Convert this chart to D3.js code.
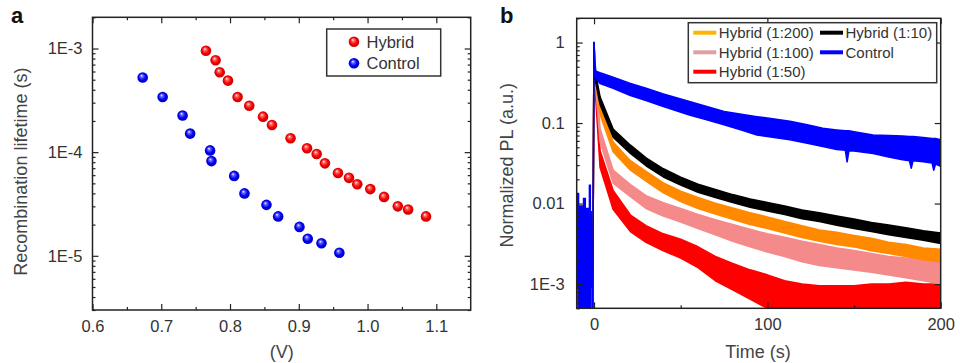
<!DOCTYPE html>
<html>
<head>
<meta charset="utf-8">
<script src="https://cdn.jsdelivr.net/npm/d3@7"></script>
<style>
  body { margin: 0; background: #fff; }
  text { font-family: "Liberation Sans", Arial, sans-serif; }
</style>
</head>
<body>
<div id="container"></div>
<script>
/* DATA: panel a (recombination lifetime vs voltage) */
const voltHybrid = [0.765, 0.779, 0.785, 0.797, 0.811, 0.828, 0.848, 0.861, 0.888, 0.912, 0.926, 0.938, 0.957, 0.973, 0.985, 1.004, 1.024, 1.044, 1.059, 1.085]
const tauHybrid = [9.5e-4, 7.7e-4, 5.9e-4, 4.9e-4, 3.4e-4, 2.8e-4, 2.2e-4, 1.83e-4, 1.36e-4, 1.09e-4, 9.6e-5, 7.8e-5, 6.3e-5, 5.65e-5, 4.9e-5, 4.4e-5, 3.7e-5, 3.0e-5, 2.8e-5, 2.4e-5]
const voltControl = [0.673, 0.702, 0.731, 0.742, 0.771, 0.773, 0.806, 0.821, 0.853, 0.870, 0.901, 0.913, 0.933, 0.959]
const tauControl = [5.25e-4, 3.4e-4, 2.26e-4, 1.51e-4, 1.04e-4, 8.2e-5, 5.9e-5, 4.0e-5, 3.1e-5, 2.4e-5, 1.9e-5, 1.46e-5, 1.32e-5, 1.07e-5]
const legendA = ["Hybrid", "Control"]
const xTicksA = [0.6, 0.7, 0.8, 0.9, 1.0, 1.1]
const xTickLabelsA = ["0.6", "0.7", "0.8", "0.9", "1.0", "1.1"]
const yTicksA = [1e-5, 1e-4, 1e-3]
const yTickLabelsA = ["1E-5", "1E-4", "1E-3"]

/* DATA: panel b (normalized PL decay), noise band read as lower/upper edges */
const timeB = [-0.8, 0, 0.4, 1, 3.5, 11, 21, 30, 40, 50, 60, 70, 80, 90, 100, 110, 120, 130, 140, 150, 160, 170, 180, 190, 200]
const hi110 = [4e-4, 1.0, 0.55, 0.40, 0.21, 0.084, 0.053, 0.037, 0.027, 0.0213, 0.0174, 0.0149, 0.0129, 0.0114, 0.0103, 0.0093, 0.0083, 0.0077, 0.0070, 0.0064, 0.0058, 0.0054, 0.0050, 0.0046, 0.0043]
const lo110 = [4e-4, 0.95, 0.45, 0.32, 0.17, 0.067, 0.042, 0.0295, 0.0214, 0.0170, 0.0138, 0.0119, 0.0103, 0.0090, 0.0081, 0.0073, 0.0065, 0.0060, 0.0054, 0.0049, 0.0045, 0.0041, 0.0038, 0.0035, 0.0032]
const hi1200 = [4e-4, 1.0, 0.52, 0.38, 0.166, 0.058, 0.034, 0.025, 0.018, 0.0142, 0.0119, 0.0101, 0.0088, 0.0077, 0.0068, 0.0060, 0.0053, 0.0047, 0.0044, 0.0040, 0.0037, 0.0033, 0.0031, 0.0028, 0.0027]
const lo1200 = [4e-4, 0.95, 0.42, 0.30, 0.128, 0.044, 0.026, 0.019, 0.0136, 0.0106, 0.0087, 0.0074, 0.0064, 0.0055, 0.0049, 0.0043, 0.0038, 0.0034, 0.0031, 0.0029, 0.0026, 0.0024, 0.0022, 0.0020, 0.0019]
const hi1100 = [4e-4, 1.0, 0.5, 0.36, 0.085, 0.026, 0.0172, 0.0125, 0.0102, 0.0087, 0.0073, 0.0063, 0.0055, 0.0048, 0.0042, 0.0038, 0.0034, 0.0031, 0.0028, 0.0026, 0.0024, 0.0022, 0.0021, 0.0020, 0.0019]
const lo1100 = [4e-4, 0.95, 0.4, 0.28, 0.058, 0.018, 0.0122, 0.0087, 0.0070, 0.0059, 0.0049, 0.0041, 0.0034, 0.0029, 0.0025, 0.0022, 0.0019, 0.0017, 0.0016, 0.0015, 0.0014, 0.0013, 0.0012, 0.0011, 0.0010]
const hi150 = [4e-4, 1.0, 0.45, 0.30, 0.045, 0.0145, 0.0072, 0.0053, 0.0042, 0.0036, 0.0029, 0.0022, 0.0018, 0.0015, 0.0013, 0.0011, 0.0010, 0.00095, 0.00095, 0.00095, 0.001, 0.001, 0.00105, 0.001, 0.001]
const lo150 = [4e-4, 0.95, 0.35, 0.20, 0.028, 0.0085, 0.0045, 0.0033, 0.0026, 0.0021, 0.0016, 0.0011, 0.00085, 0.00065, 0.0005, 0.0004, 0.0003, 0.0003, 0.0003, 0.0003, 0.0003, 0.0003, 0.0003, 0.0003, 0.0003]
// control is read on a finer grid (its dips are wide enough to see)
const timeControl = [-0.8, 0, 0.4, 1, 3.5, 11, 21, 30, 40, 55, 65, 75, 85, 94, 104, 113, 123, 132, 140, 145, 146, 147, 150, 161, 170, 178, 182, 183, 184, 190, 195, 196, 197, 200]
const hiControl = [4e-4, 1.0, 0.6, 0.44, 0.42, 0.37, 0.31, 0.27, 0.23, 0.185, 0.16, 0.139, 0.128, 0.120, 0.112, 0.105, 0.095, 0.086, 0.082, 0.080, 0.080, 0.080, 0.078, 0.071, 0.070, 0.069, 0.068, 0.068, 0.068, 0.066, 0.064, 0.064, 0.064, 0.062]
const loControl = [4e-4, 0.95, 0.5, 0.36, 0.31, 0.27, 0.22, 0.19, 0.16, 0.126, 0.11, 0.095, 0.082, 0.071, 0.066, 0.062, 0.056, 0.051, 0.047, 0.046, 0.033, 0.045, 0.045, 0.042, 0.038, 0.035, 0.034, 0.0275, 0.034, 0.033, 0.032, 0.026, 0.031, 0.029]
// before the pulse
const timePreControl = [-10.2, -8.5, -6.5, -4.6, -3.1, -1.7, -0.9]
const hiPreControl = [0.0136, 0.0095, 0.0118, 0.0089, 0.0173, 0.0081, 0.0081]
const timePreRed = [-10.2, -9.2, -3.1, -1.6, -0.9]
const hiPreRed = [0.0009, 0.0003, 0.0003, 0.0009, 0.0009]
const seriesNamesB = ["Hybrid (1:200)", "Hybrid (1:100)", "Hybrid (1:50)", "Hybrid (1:10)", "Control"]
const xTicksB = [0, 100, 200]
const yTicksB = [1e-3, 0.01, 0.1, 1]
const yTickLabelsB = ["1E-3", "0.01", "0.1", "1"]

/* SVG */
const width = 960, height = 363
const svg = d3.select("#container").append("svg")
  .attr("width", width)
  .attr("height", height)

const defs = svg.append("defs")
function sphere(id, light, base, dark) {
  const g = defs.append("radialGradient").attr("id", id)
    .attr("cx", "50%").attr("cy", "50%").attr("r", "55%")
    .attr("fx", "38%").attr("fy", "32%")
  g.append("stop").attr("offset", "0%").attr("stop-color", "#fff")
  g.append("stop").attr("offset", "22%").attr("stop-color", light)
  g.append("stop").attr("offset", "60%").attr("stop-color", base)
  g.append("stop").attr("offset", "100%").attr("stop-color", dark)
}
sphere("ballRed", "#ff6a6a", "#f40000", "#c00000")
sphere("ballBlue", "#6a6aff", "#0000f0", "#0000b8")

const textColor = "#333"

// draws frame + inward ticks on a panel
function frame(x, y, box, o) {
  const g = svg.append("g")
  const axisOpts = (ax, size) => ax.tickSizeInner(-size).tickSizeOuter(0)

  // minor ticks
  if (o.xMinor) {
    g.append("g").attr("transform", `translate(0,${box.bottom})`)
      .call(axisOpts(d3.axisBottom(x), 3).tickValues(o.xMinor).tickFormat(""))
    if (o.allSides) g.append("g").attr("transform", `translate(0,${box.top})`)
      .call(axisOpts(d3.axisTop(x), 3).tickValues(o.xMinor).tickFormat(""))
  }
  g.append("g").attr("transform", `translate(${box.left},0)`)
    .call(axisOpts(d3.axisLeft(y), 3).tickValues(o.yMinor).tickFormat(""))
  if (o.allSides) g.append("g").attr("transform", `translate(${box.right},0)`)
    .call(axisOpts(d3.axisRight(y), 3).tickValues(o.yMinor).tickFormat(""))

  // major ticks
  g.append("g").attr("transform", `translate(0,${box.bottom})`)
    .call(axisOpts(d3.axisBottom(x), 6).tickValues(o.xTicks).tickPadding(10)
      .tickFormat((d, i) => o.xLabels[i]))
  g.append("g").attr("transform", `translate(${box.left},0)`)
    .call(axisOpts(d3.axisLeft(y), 6).tickValues(o.yTicks).tickPadding(o.yPad)
      .tickFormat((d, i) => o.yLabels[i]))
  g.append("g").attr("transform", `translate(0,${box.top})`)
    .call(axisOpts(d3.axisTop(x), 6).tickValues(o.xTicks).tickFormat(""))
  g.append("g").attr("transform", `translate(${box.right},0)`)
    .call(axisOpts(d3.axisRight(y), 6).tickValues(o.yTicks).tickFormat(""))

  g.selectAll(".domain").remove()
  g.selectAll(".tick line").attr("stroke", "#222").attr("stroke-width", 1.2)
  g.selectAll(".tick text").attr("fill", textColor).attr("font-size", 16.5)
    .attr("font-family", "'Liberation Sans', Arial, sans-serif")

  g.append("rect")
    .attr("x", box.left).attr("y", box.top)
    .attr("width", box.right - box.left).attr("height", box.bottom - box.top)
    .attr("fill", "none").attr("stroke", "#222").attr("stroke-width", 1.5)
  return g
}

/* ---------- PANEL A ---------- */
const boxA = { left: 92.5, right: 470.7, top: 17.3, bottom: 310 }
const xA = d3.scaleLinear().domain([0.6, 1.15]).range([boxA.left, boxA.right])
const yA = d3.scaleLog().domain([3e-6, 2e-3]).range([boxA.bottom, boxA.top])

frame(xA, yA, boxA, {
  xTicks: xTicksA, xLabels: xTickLabelsA,
  xMinor: [0.65, 0.75, 0.85, 0.95, 1.05],
  yTicks: yTicksA, yLabels: yTickLabelsA, yPad: 10,
  yMinor: yA.ticks().filter(d => !yTicksA.some(t => Math.abs(t - d) / t < 1e-6)),
  allSides: true
})

const ptsHybrid = voltHybrid.map((v, i) => ({ v, tau: tauHybrid[i] }))
const ptsControl = voltControl.map((v, i) => ({ v, tau: tauControl[i] }))

svg.append("g").selectAll("circle.control")
  .data(ptsControl)
  .join("circle")
  .attr("class", "control")
  .attr("cx", d => xA(d.v))
  .attr("cy", d => yA(d.tau))
  .attr("r", 5.3)
  .attr("fill", "url(#ballBlue)")

svg.append("g").selectAll("circle.hybrid")
  .data(ptsHybrid)
  .join("circle")
  .attr("class", "hybrid")
  .attr("cx", d => xA(d.v))
  .attr("cy", d => yA(d.tau))
  .attr("r", 5.3)
  .attr("fill", "url(#ballRed)")

// legend a
const legA = svg.append("g")
legA.append("rect").attr("x", 326.7).attr("y", 29).attr("width", 114).attr("height", 47)
  .attr("fill", "#fff").attr("stroke", "#333").attr("stroke-width", 1.5)
legendA.forEach((name, i) => {
  const cy = 41.7 + i * 21.6
  legA.append("circle").attr("cx", 354).attr("cy", cy).attr("r", 5.3)
    .attr("fill", i === 0 ? "url(#ballRed)" : "url(#ballBlue)")
  legA.append("text").attr("x", 366.5).attr("y", cy + 6)
    .attr("font-size", 16.5).attr("fill", textColor).text(name)
})

svg.append("text")
  .attr("transform", `translate(26.5,${(boxA.top + boxA.bottom) / 2 + 8}) rotate(-90)`)
  .attr("text-anchor", "middle").attr("font-size", 18).attr("fill", "#444")
  .text("Recombination lifetime (s)")
svg.append("text")
  .attr("x", 281.7).attr("y", 358)
  .attr("text-anchor", "middle").attr("font-size", 18).attr("fill", "#444")
  .text("(V)")
svg.append("text").attr("x", 11).attr("y", 23)
  .attr("font-size", 22).attr("font-weight", "bold").attr("fill", "#111").text("a")

/* ---------- PANEL B ---------- */
const boxB = { left: 576.7, right: 940.7, top: 18.3, bottom: 308.3 }
const xB = d3.scaleLinear().domain([-10, 200]).range([boxB.left, boxB.right])
const yB = d3.scaleLog().domain([5e-4, 2]).range([boxB.bottom, boxB.top])

defs.append("clipPath").attr("id", "clipB")
  .append("rect").attr("x", boxB.left).attr("y", boxB.top)
  .attr("width", boxB.right - boxB.left).attr("height", boxB.bottom - boxB.top)

const plotB = svg.append("g").attr("clip-path", "url(#clipB)")

const band = d3.area()
  .x(d => xB(d.t))
  .y0(d => yB(d.lo))
  .y1(d => yB(d.hi))
const bandStep = d3.area()
  .x(d => xB(d.t))
  .y0(d => yB(d.lo))
  .y1(d => yB(d.hi))
  .curve(d3.curveStepAfter)

const curvesB = [
  { color: "#ff0000", t: timeB, lo: lo150, hi: hi150 },
  { color: "#f58a8a", t: timeB, lo: lo1100, hi: hi1100 },
  { color: "#ff8a00", t: timeB, lo: lo1200, hi: hi1200 },
  { color: "#000000", t: timeB, lo: lo110, hi: hi110 },
  { color: "#0000ff", t: timeControl, lo: loControl, hi: hiControl }
]

// pre-pulse noise
plotB.append("path")
  .datum(timePreControl.map((t, i) => ({ t, lo: 1e-4, hi: hiPreControl[i] })))
  .attr("d", bandStep).attr("fill", "#0000ff")
plotB.append("path")
  .datum(timePreRed.map((t, i) => ({ t, lo: 1e-4, hi: hiPreRed[i] })))
  .attr("d", bandStep).attr("fill", "#ff0000")

curvesB.forEach(c => {
  plotB.append("path")
    .datum(c.t.map((t, i) => ({ t, lo: c.lo[i], hi: c.hi[i] })))
    .attr("d", band)
    .attr("fill", c.color).attr("stroke", c.color)
    .attr("stroke-width", 1.6).attr("stroke-linejoin", "round")
})

frame(xB, yB, boxB, {
  xTicks: xTicksB, xLabels: xTicksB.map(String),
  xMinor: [50, 150],
  yTicks: yTicksB, yLabels: yTickLabelsB, yPad: 12,
  yMinor: yB.ticks().filter(d => !yTicksB.some(t => Math.abs(t - d) / t < 1e-6)),
  allSides: false
})

// legend b
const legendColors = { "Hybrid (1:200)": "#ffb400", "Hybrid (1:100)": "#e0a0a0", "Hybrid (1:50)": "#ff0000", "Hybrid (1:10)": "#000000", "Control": "#0000ff" }
const legPos = [[693.3, 32.7], [693.3, 52.3], [693.3, 71.7], [820, 32.7], [820, 52.3]]
const legB = svg.append("g")
legB.append("rect").attr("x", 688.3).attr("y", 22.7).attr("width", 248.4).attr("height", 60)
  .attr("fill", "#fff").attr("stroke", "#333").attr("stroke-width", 1.5)
seriesNamesB.forEach((name, i) => {
  const [lx, ly] = legPos[i]
  legB.append("line").attr("x1", lx).attr("x2", lx + 23).attr("y1", ly).attr("y2", ly)
    .attr("stroke", legendColors[name]).attr("stroke-width", 4)
  legB.append("text").attr("x", lx + 25.5).attr("y", ly + 5.3)
    .attr("font-size", 15).attr("fill", textColor).text(name)
})

svg.append("text")
  .attr("transform", `translate(513,${(boxB.top + boxB.bottom) / 2 + 2}) rotate(-90)`)
  .attr("text-anchor", "middle").attr("font-size", 18).attr("fill", "#444")
  .text("Normalized PL (a.u.)")
svg.append("text")
  .attr("x", 758).attr("y", 358)
  .attr("text-anchor", "middle").attr("font-size", 18).attr("fill", "#444")
  .text("Time (s)")
svg.append("text").attr("x", 500).attr("y", 23)
  .attr("font-size", 22).attr("font-weight", "bold").attr("fill", "#111").text("b")
</script>
</body>
</html>
